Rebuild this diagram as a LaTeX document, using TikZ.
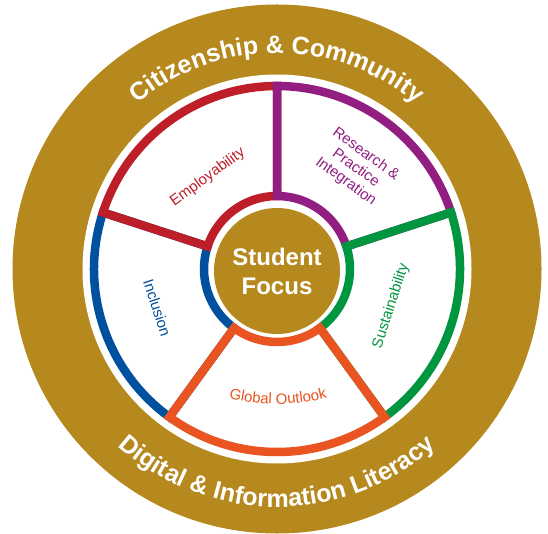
\documentclass[tikz,border=0pt]{standalone}
\usepackage{fontspec}
\setmainfont{Liberation Sans}
\usetikzlibrary{decorations.text}
\definecolor{gold}{RGB}{181,137,29}
\definecolor{sred}{RGB}{190,30,40}
\definecolor{spurple}{RGB}{146,30,130}
\definecolor{sgreen}{RGB}{0,150,64}
\definecolor{sblue}{RGB}{0,80,160}
\definecolor{sorange}{RGB}{233,84,32}
\tikzset{
  segline/.style={line width=8.5pt, line join=miter},
  seglabel/.style={font=\fontsize{15}{17}\selectfont, align=center, inner sep=0pt},
  centertext/.style={font=\fontsize{24}{29}\selectfont\bfseries, text=white, align=center, inner sep=0pt}
}
\newcommand\ringfont{\fontsize{25}{25}\selectfont\bfseries\color{white}}
\newcommand\segpath[2]{(#1:183pt) arc[start angle=#1, end angle=#2, radius=183pt] -- (#2:73pt) arc[start angle=#2, end angle=#1, radius=73pt] -- cycle}
\begin{document}
\begin{tikzpicture}[x=1pt,y=1pt]
\useasboundingbox (0,0) rectangle (548,533);
\begin{scope}[shift={(277,264)}]
  % outer gold ring
  \fill[gold] (0,0) circle[radius=264.5pt];
  \fill[white] (0,0) circle[radius=194.5pt];
  % segments
  \draw[segline, sblue]   \segpath{162}{234};
  \draw[segline, sred]    \segpath{90}{162};
  \draw[segline, spurple] \segpath{18}{90};
  \draw[segline, sgreen]  \segpath{-54}{18};
  \draw[segline, sorange] \segpath{234}{306};
  % center
  \fill[gold] (0,-2) circle[radius=63pt];
  \node[centertext] (sf) at (0,-2) {Student\\Focus};
  % segment labels
  \node[seglabel, text=sred, rotate=36] (emp) at (127:115pt) {Employability};
  \node[seglabel, text=spurple, rotate=-36] (rpi) at (52:128pt) {Research \&\\Practice\\Integration};
  \node[seglabel, text=sblue, rotate=-72] (inc) at (198:126pt) {Inclusion};
  \node[seglabel, text=sgreen, rotate=72] (sus) at (-18:120pt) {Sustainability};
  \path[decorate, decoration={text along path, text align=center,
      text={|\fontsize{15}{17}\selectfont\color{sorange}|Global Outlook}}]
      (-67.4,-123) arc[start angle=-110, end angle=-70, radius=200pt];
  % ring texts
  \path[decorate, decoration={text along path, text align=center,
      text={|\ringfont|Citizenship {\&} Community}}]
      (160:216pt) arc[start angle=160, end angle=20, radius=216pt];
  \path[decorate, decoration={text along path, text align=center,
      text={|\ringfont|Digital {\&} Information Literacy}}]
      (-140:238pt) arc[start angle=-140, end angle=-40, radius=238pt];
\end{scope}
\end{tikzpicture}
\end{document}
